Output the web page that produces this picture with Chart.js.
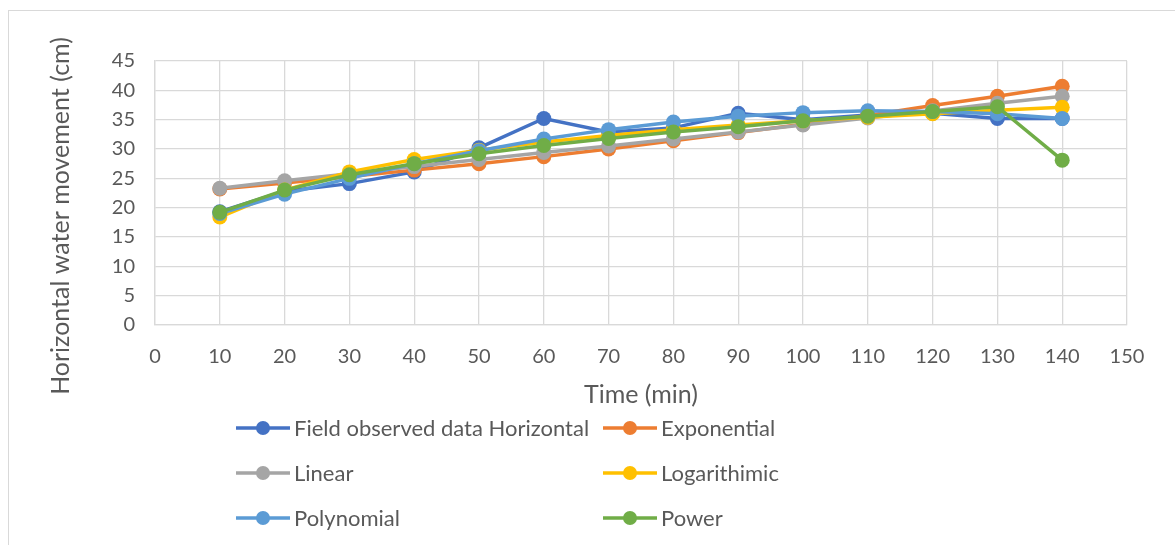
<!DOCTYPE html>
<html>
<head>
<meta charset="utf-8">
<script src="https://cdn.jsdelivr.net/npm/chart.js@4"></script>
<style>
  body { margin: 0; background: #fff; }
  #wrap { position: relative; width: 1175px; height: 545px; overflow: hidden; }
  #frame { position: absolute; left: 8px; top: 10px; width: 1200px; height: 600px; border: 1px solid #d9d9d9; pointer-events: none; }
</style>
</head>
<body>
<div id="wrap">
  <div id="frame"></div>
  <canvas id="myChart"></canvas>
</div>
<script>
// time axis (min)
let timeMin = [10, 20, 30, 40, 50, 60, 70, 80, 90, 100, 110, 120, 130, 140];

// horizontal water movement (cm)
let fieldObserved = [19.3, 22.8, 24.1, 26.1, 30.2, 35.2, 32.9, 33.6, 36.1, 35.0, 35.8, 36.1, 35.2, 35.2];
let exponential = [23.2, 24.2, 25.3, 26.4, 27.5, 28.7, 30.0, 31.4, 32.8, 34.2, 35.7, 37.4, 39.0, 40.7];
let linear = [23.3, 24.6, 25.8, 27.0, 28.2, 29.4, 30.5, 31.7, 32.9, 34.1, 35.3, 36.5, 37.8, 39.0];
let logarithimic = [18.4, 23.0, 26.1, 28.2, 29.8, 31.2, 32.3, 33.3, 34.1, 34.8, 35.4, 36.0, 36.6, 37.1];
let polynomial = [19.0, 22.3, 25.0, 27.5, 29.7, 31.7, 33.3, 34.6, 35.6, 36.2, 36.5, 36.4, 36.0, 35.2];
let power = [19.2, 23.0, 25.6, 27.5, 29.2, 30.6, 31.8, 32.9, 33.8, 34.8, 35.6, 36.4, 37.2, 28.1];

let seriesNames = ["Field observed data Horizontal", "Exponential", "Linear", "Logarithimic", "Polynomial", "Power"];
let seriesValues = [fieldObserved, exponential, linear, logarithimic, polynomial, power];
let seriesColors = ["#4472C4", "#ED7D31", "#A5A5A5", "#FFC000", "#5B9BD5", "#70AD47"];

let xTitle = "Time (min)";
let yTitle = "Horizontal water movement (cm)";

const FONT = "Lato";
const TEXT = "#595959";

// Excel style legend (line with a dot, two columns) and the y axis title
const extrasPlugin = {
  id: "extras",
  afterDraw(chart, args, opts) {
    const ctx = chart.ctx;
    chart.data.datasets.forEach((ds, i) => {
      const x = opts.colX[i % 2];
      const y = opts.rowY[Math.floor(i / 2)];
      ctx.save();
      ctx.strokeStyle = ds.borderColor;
      ctx.lineWidth = 3.5;
      ctx.beginPath();
      ctx.moveTo(x, y);
      ctx.lineTo(x + 54, y);
      ctx.stroke();
      ctx.fillStyle = ds.borderColor;
      ctx.beginPath();
      ctx.arc(x + 27, y, 7, 0, Math.PI * 2);
      ctx.fill();
      ctx.fillStyle = TEXT;
      ctx.font = "22px " + FONT;
      ctx.textBaseline = "middle";
      ctx.fillText(ds.label, x + 58, y + 1);
      ctx.restore();
    });

    ctx.save();
    ctx.translate(opts.yTitleX, opts.yTitleY);
    ctx.rotate(-Math.PI / 2);
    ctx.fillStyle = TEXT;
    ctx.font = "25px " + FONT;
    ctx.textAlign = "center";
    ctx.textBaseline = "middle";
    ctx.fillText(yTitle, 0, 0);
    ctx.restore();
  }
};

const datasets = seriesNames.map((name, i) => ({
  label: name,
  data: timeMin.map((t, k) => ({ x: t, y: seriesValues[i][k] })),
  borderColor: seriesColors[i],
  backgroundColor: seriesColors[i],
  borderWidth: 3.5,
  pointRadius: 7.5,
  pointHoverRadius: 7.5,
  pointBorderWidth: 0,
  tension: 0,
  order: seriesNames.length - i
}));

const ctx = document.getElementById("myChart").getContext("2d");
const myChart = new Chart(ctx, {
  type: "line",
  data: { datasets: datasets },
  plugins: [extrasPlugin],
  options: {
    responsive: true,
    maintainAspectRatio: false,
    animation: false,
    layout: { padding: { left: 0, right: 48, top: 61, bottom: 135 } },
    plugins: {
      legend: { display: false },
      tooltip: { enabled: false },
      extras: { colX: [236, 603], rowY: [428, 473, 518], yTitleX: 61, yTitleY: 216 }
    },
    scales: {
      x: {
        type: "linear",
        min: 0,
        max: 150,
        ticks: { stepSize: 10, color: TEXT, font: { family: FONT, size: 20 }, padding: 20, maxRotation: 0 },
        grid: { color: "#d9d9d9", lineWidth: 1.3, drawTicks: false },
        border: { color: "#d9d9d9", width: 1.3 },
        title: { display: true, text: xTitle, color: TEXT, font: { family: FONT, size: 25 }, padding: { top: 0, bottom: 0 } },
        afterFit: (scale) => { scale.height = 85; }
      },
      y: {
        min: 0,
        max: 45,
        ticks: { stepSize: 5, color: TEXT, font: { family: FONT, size: 20 }, padding: 20 },
        grid: { color: "#d9d9d9", lineWidth: 1.3, drawTicks: false },
        border: { color: "#d9d9d9", width: 1.3 },
        afterFit: (scale) => { scale.width = 155; }
      }
    }
  }
});
</script>
</body>
</html>
